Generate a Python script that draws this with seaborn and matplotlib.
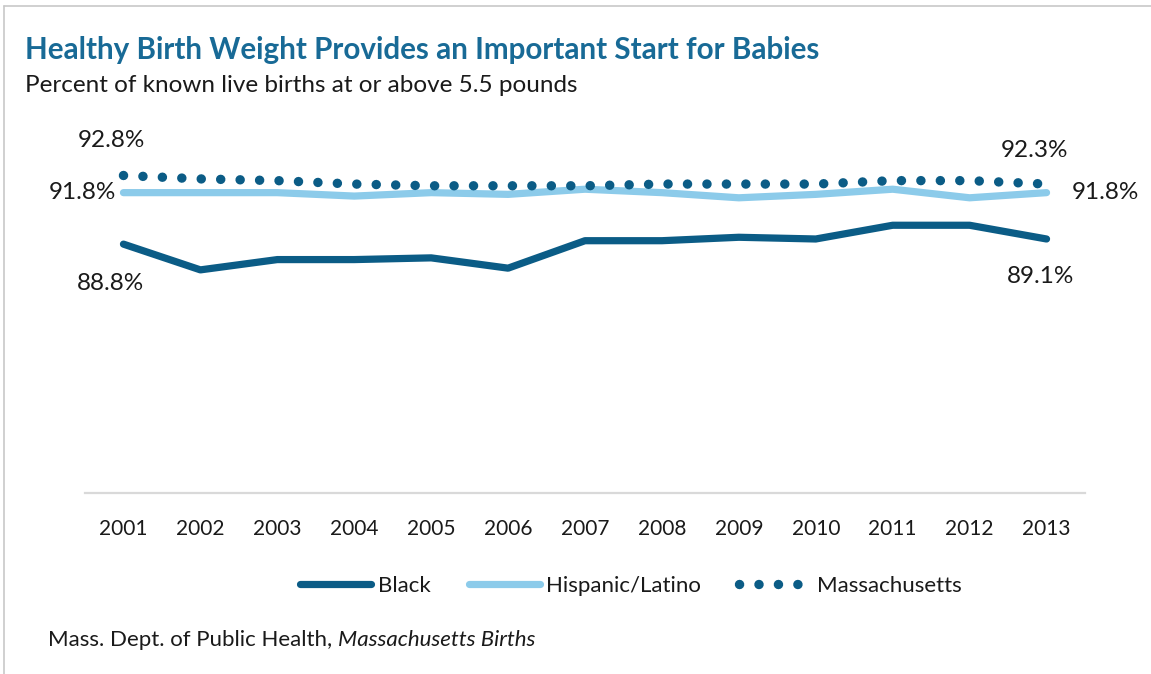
import matplotlib
matplotlib.use("Agg")
import matplotlib.pyplot as plt
import matplotlib.lines as mlines
import seaborn as sns

# Healthy birth weight share, Massachusetts, 2001-2013
years = ["2001", "2002", "2003", "2004", "2005", "2006", "2007",
         "2008", "2009", "2010", "2011", "2012", "2013"]
black = [88.8, 87.3, 87.9, 87.9, 88.0, 87.4, 89.0, 89.0, 89.2, 89.1, 89.9, 89.9, 89.1]
hispanic = [91.8, 91.8, 91.8, 91.6, 91.8, 91.7, 92.0, 91.8, 91.5, 91.7, 92.0, 91.5, 91.8]
massachusetts = [92.8, 92.6, 92.5, 92.3, 92.2, 92.2, 92.2, 92.3, 92.3, 92.3, 92.5, 92.5, 92.3]

DARK = "#0b5c86"
LIGHT = "#8ccbea"
TEXT = "#1a1a1a"
DOTS = (0, (0.01, 2.05))

sns.set_theme(style="white")
plt.rcParams["font.family"] = ["Lato", "DejaVu Sans"]

W, H = 1151, 674
fig = plt.figure(figsize=(W / 100, H / 100), dpi=100)
ax = fig.add_axes([85 / W, (H - 493) / H, 1000 / W, (493 - 130) / H])

x = list(range(len(years)))

sns.lineplot(x=x, y=black, ax=ax, color=DARK, lw=5.2,
             solid_capstyle="round", solid_joinstyle="round", legend=False)
sns.lineplot(x=x, y=hispanic, ax=ax, color=LIGHT, lw=5.2,
             solid_capstyle="round", solid_joinstyle="round", legend=False)
sns.lineplot(x=x, y=massachusetts, ax=ax, color=DARK, lw=6.8,
             dashes=False, legend=False)
ma_line = ax.get_lines()[-1]
ma_line.set_linestyle(DOTS)
ma_line.set_dash_capstyle("round")

ax.set_xlim(-0.5, 12.5)
ax.set_ylim(74.3, 95.45)
ax.set_xticks(x)
ax.set_xticklabels(years)
ax.set_yticks([])
ax.tick_params(axis="x", length=0, pad=19, labelsize=15, labelcolor=TEXT)
for s in ["top", "right", "left"]:
    ax.spines[s].set_visible(False)
ax.spines["bottom"].set_color("#d9d9d9")
ax.spines["bottom"].set_linewidth(1.6)

# End-point value labels
lab = dict(fontsize=17.5, color=TEXT)
ax.annotate(f"{massachusetts[0]:.1f}%", (0, massachusetts[0]), xytext=(-9, 25),
            textcoords="offset points", ha="center", va="center", **lab)
ax.annotate(f"{hispanic[0]:.1f}%", (0, hispanic[0]), xytext=(-5, 0),
            textcoords="offset points", ha="right", va="center", **lab)
ax.annotate(f"{black[0]:.1f}%", (0, black[0]), xytext=(-9, -28),
            textcoords="offset points", ha="center", va="center", **lab)
ax.annotate(f"{massachusetts[-1]:.1f}%", (12, massachusetts[-1]), xytext=(-9, 24),
            textcoords="offset points", ha="center", va="center", **lab)
ax.annotate(f"{hispanic[-1]:.1f}%", (12, hispanic[-1]), xytext=(18, 0),
            textcoords="offset points", ha="left", va="center", **lab)
ax.annotate(f"{black[-1]:.1f}%", (12, black[-1]), xytext=(-4, -27),
            textcoords="offset points", ha="center", va="center", **lab)

# Legend
h_black = mlines.Line2D([], [], color=DARK, lw=5.2, solid_capstyle="round")
h_hisp = mlines.Line2D([], [], color=LIGHT, lw=5.2, solid_capstyle="round")
h_ma = mlines.Line2D([], [], color=DARK, lw=6.8, linestyle=DOTS,
                     dash_capstyle="round")
fig.legend([h_black, h_hisp, h_ma], ["Black", "Hispanic/Latino", "Massachusetts"],
           loc="center", bbox_to_anchor=(631 / W, 1 - 586 / H), ncol=3,
           frameon=False, fontsize=16, handlelength=3.2, handletextpad=0.3,
           columnspacing=1.7, labelcolor=TEXT)

# Titles
fig.text(25 / W, 1 - 50 / H, "Healthy Birth Weight Provides an Important Start for Babies",
         fontsize=21.3, fontweight="bold", color="#186a96", ha="left", va="center")
fig.text(25 / W, 1 - 86 / H, "Percent of known live births at or above 5.5 pounds",
         fontsize=17.5, color=TEXT, ha="left", va="center")

# Source line with italic publication name
src = fig.text(48 / W, 1 - 640 / H, "Mass. Dept. of Public Health, ",
               fontsize=16, color=TEXT, ha="left", va="center")
fig.canvas.draw()
bb = src.get_window_extent(renderer=fig.canvas.get_renderer())
fig.text(bb.x1 / W, 1 - 640 / H, "Massachusetts Births", fontsize=16,
         style="italic", color=TEXT, ha="left", va="center")

# Panel border (top and left edges)
fig.add_artist(mlines.Line2D([4 / W, 4 / W], [0, 1 - 6 / H], color="#c8c8c8", lw=1.2,
                             transform=fig.transFigure))
fig.add_artist(mlines.Line2D([4 / W, 1], [1 - 6 / H, 1 - 6 / H], color="#c8c8c8", lw=1.2,
                             transform=fig.transFigure))

fig.savefig("out.png", dpi=100, facecolor="white")
